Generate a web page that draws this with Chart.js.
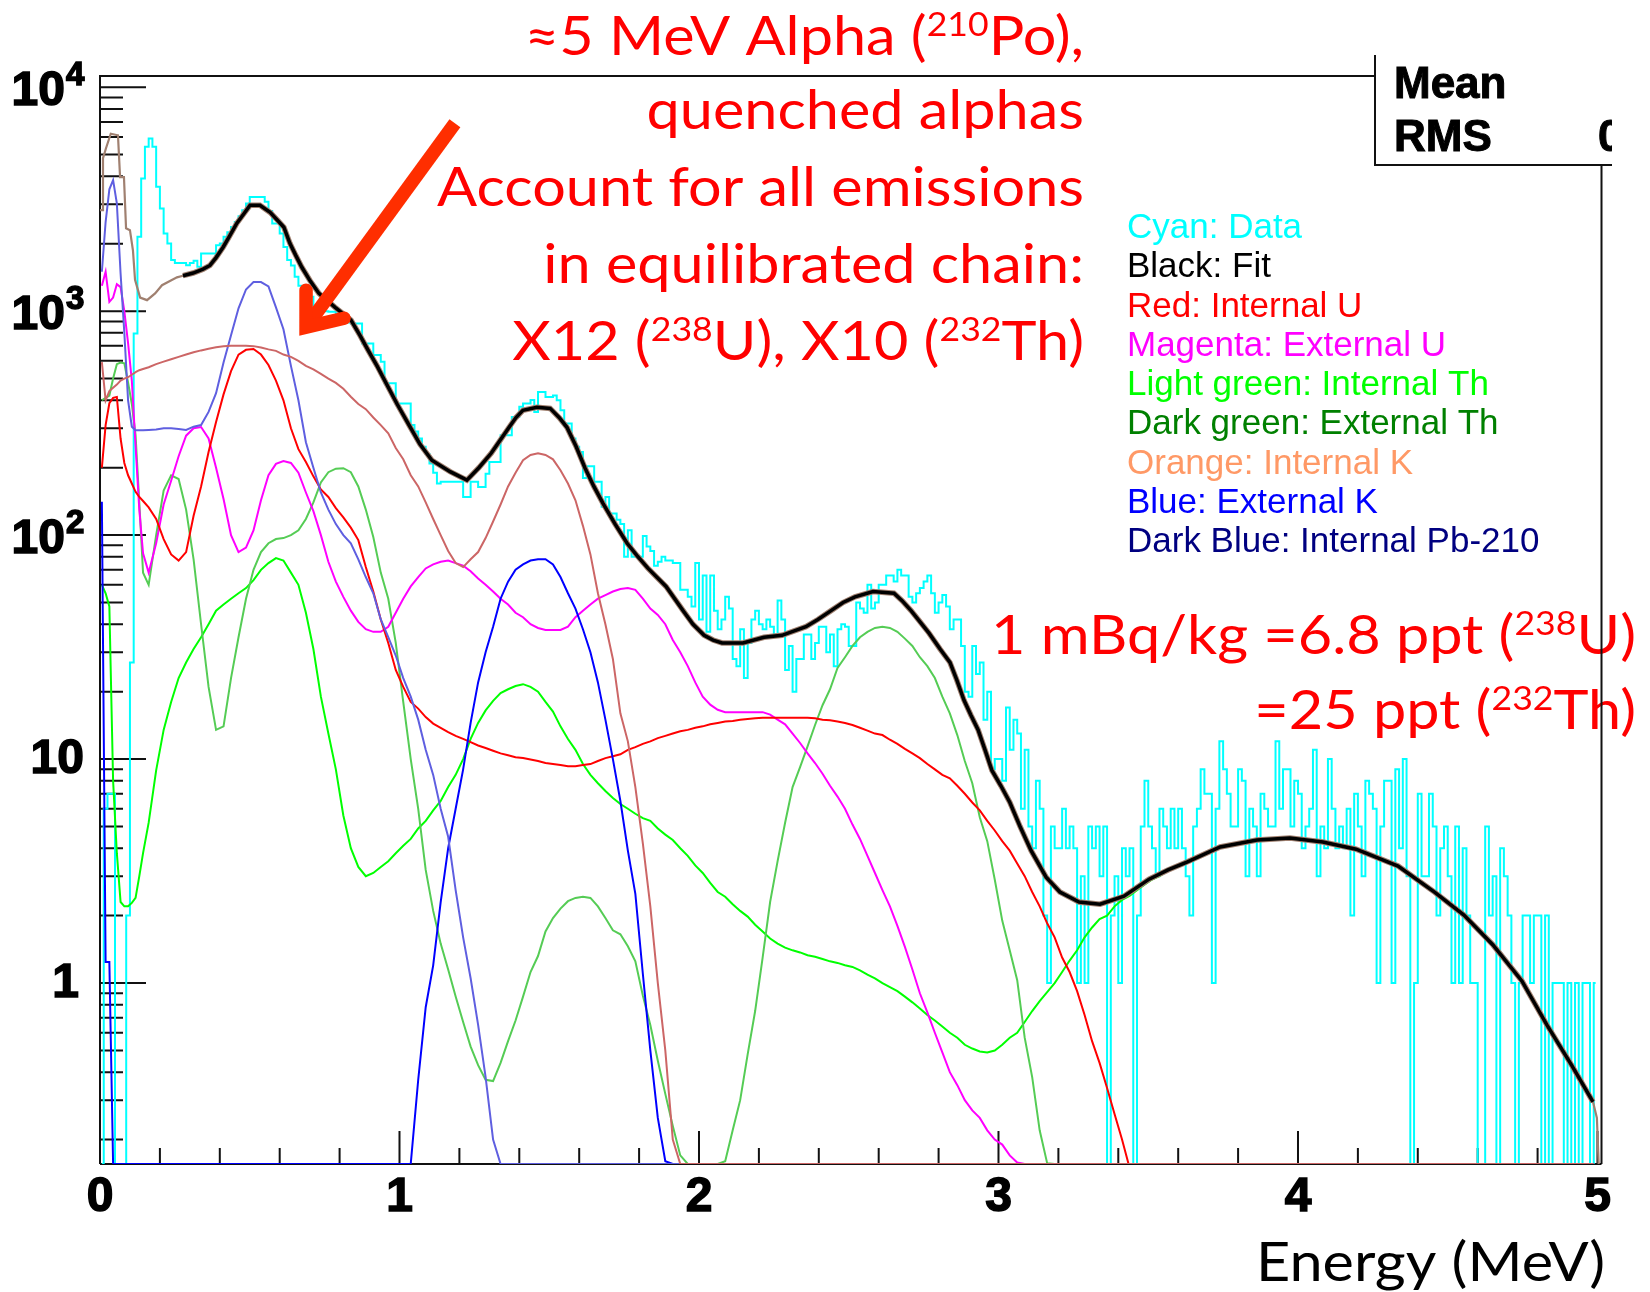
<!DOCTYPE html>
<html>
<head>
<meta charset="utf-8">
<title>Energy spectrum</title>
<script src="https://cdn.jsdelivr.net/npm/chart.js@4"></script>
<style>
  html, body { margin: 0; padding: 0; background: #fff; }
  canvas { display: block; }
</style>
</head>
<body>
<canvas id="spectrum" width="1650" height="1292"></canvas>
<script>
// axis limits
const energyMax = 5.0134;
const countMin = 0.1556;
const countMax = 11220;

// x ticks
const energyMajor = [0, 1, 2, 3, 4, 5];
const energyMinor = [0.2, 0.4, 0.6, 0.8, 1.2, 1.4, 1.6, 1.8, 2.2, 2.4, 2.6, 2.8, 3.2, 3.4, 3.6, 3.8, 4.2, 4.4, 4.6, 4.8];
// y ticks
const countMajor = [1, 10, 100, 1000, 10000];
const countMinor = [0.2, 0.3, 0.4, 0.5, 0.6, 0.7, 0.8, 0.9,
  2, 3, 4, 5, 6, 7, 8, 9, 20, 30, 40, 50, 60, 70, 80, 90,
  200, 300, 400, 500, 600, 700, 800, 900, 2000, 3000, 4000, 5000, 6000, 7000, 8000, 9000];

// Cyan: data, counts in 400 bins of 0.0125 MeV
const dataCounts = [
  0,6,7,7,0,0,0,2,27,795,2148,3912,5415,5900,5415,3590,2873,2222,2005,1690,
  1640,1640,1640,1603,1640,1680,1577,1811,1811,1811,1811,1971,2005,2150,2250,2378,2500,2650,2825,3027,
  3237,3237,3237,3237,3076,2800,2461,2461,2222,1936,1690,1600,1423,1300,1159,1159,1159,1045,1045,1020,
  1000,993,993,960,940,900,890,881,881,881,718,718,718,637,637,594,476,476,476,387,
  387,387,387,310,290,270,248,230,209,190,170,173,173,173,173,173,173,148,148,173,
  173,164,164,188,212,212,212,279,279,279,337,337,374,387,387,401,355,436,436,414,
  414,420,400,361,315,315,270,248,235,180,203,203,173,173,134,148,125,125,117,112,
  80,105,80,80,80,99,89,85,73,76,80,77,77,75,75,57,57,53,48,75,
  42,66,37,66,46,38,42,53,47,28,26,38,23,33,42,46,40,38,42,39,
  36,51,42,25,32,20,28,28,36,36,28,33,39,39,30,36,26,38,40,39,
  32,32,50,47,45,60,47,50,60,60,66,66,62,70,66,66,53,50,55,58,
  62,66,55,45,50,54,48,38,42,42,32,20,19,32,24,27,15,20,9,10,
  10,8,17,11,15,13,6,11,5,4,8,6,2,1,5,4,4,6,4,5,
  4,1,3,1,5,4,5,3,5,0,2,3,1,4,3,4,0,2,5,8,
  5,4,3,6,5,4,6,4,6,4,3,2,5,6,9,7,7,1,6,12,
  9,7,5,5,9,8,3,6,5,3,7,6,5,5,12,6,9,9,5,8,
  7,4,5,6,11,3,5,4,10,6,4,5,4,6,2,7,5,3,8,7,
  6,1,5,8,8,1,9,4,10,3,0,1,7,3,3,7,5,2,4,5,
  3,1,5,1,4,2,1,1,0,0,5,2,3,0,4,3,2,1,0,1,
  2,2,1,2,2,0,2,0,1,1,1,0,1,0,1,0,1,1,0,1
];

// Components below share one energy list: 12 fine bins up to 0.15 MeV, then 0.025 MeV bins
const redValues = [
  200,310,388,410,414,270,210,185,170,156,148,142,
  133,118,96,82,77,84,122,165,235,320,
  425,540,640,672,678,640,575,490,400,300,
  242,212,183,160,148,132,120,108,95,72,
  56,42,33,25,21,18,16.8,15.4,14.4,13.8,
  13.2,12.7,12.3,11.9,11.5,11.2,10.9,10.6,10.4,10.2,
  10.1,9.95,9.8,9.6,9.5,9.4,9.3,9.3,9.4,9.5,
  9.8,10.1,10.3,10.5,11,11.3,11.7,12,12.4,12.7,
  13,13.3,13.5,13.8,14,14.3,14.5,14.7,14.8,15,
  15.1,15.2,15.3,15.3,15.3,15.3,15.3,15.3,15.3,15.2,
  15,14.9,14.7,14.5,14.2,13.8,13.4,13,12.8,12.2,
  11.7,11.1,10.6,10.1,9.5,9,8.5,8.2,7.6,7,
  6.4,5.9,5.3,4.8,4.3,3.9,3.42,3,2.55,2.2,
  1.85,1.6,1.3,1.12,0.92,0.72,0.55,0.44,0.34,0.26,
  0.2,0.15
];

const magentaValues = [
  1300,1500,1100,1150,1320,1280,1000,720,490,250,130,83,
  68,92,137,175,225,278,300,304,270,200,
  145,100,84,88,105,143,185,208,214,210,
  190,155,128,100,76,62,53,46,41,38,
  37,37,39,45,52,59,65,71,74,76,
  77,75,73,69,64,60,56,52,49,45,
  43,40,38.5,37.7,37.7,37.7,39,43,46,49,
  52,54,56,57.5,58,57,52,47,44,40,
  34,30,26,22,19,17.5,16.6,16.2,16.2,16.2,
  16.2,16.2,16.2,15.8,15,14.3,13,11.8,10.6,9.6,
  8.6,7.6,6.8,6,5.1,4.4,3.7,3.1,2.6,2.2,
  1.8,1.45,1.15,0.9,0.74,0.6,0.49,0.4,0.35,0.3,
  0.27,0.25,0.22,0.2,0.19,0.17,0.158
];

const internalThValues = [
  60,55,48,8,3.8,2.3,2.2,2.2,2.28,2.4,3,3.8,
  5.2,8.9,13.5,18,23,27,31,35,40,46,
  49,52,55,58,63,70,75,79,77,68,
  60,45,31,19,13,9,5.6,4,3.3,3,
  3.1,3.3,3.5,3.8,4.1,4.4,4.9,5.3,5.9,6.5,
  7.5,8.5,10,12.3,14.5,16.5,18.2,19.7,20.5,21.2,
  21.6,21,20,18,16.3,14,12.3,11,9.5,8.5,
  7.8,7.2,6.7,6.3,6,5.7,5.45,5.3,4.9,4.6,
  4.35,4,3.7,3.35,3.1,2.8,2.55,2.43,2.25,2.1,
  1.98,1.82,1.7,1.58,1.5,1.44,1.4,1.37,1.33,1.31,
  1.28,1.25,1.23,1.2,1.18,1.14,1.09,1.05,1,0.96,
  0.92,0.87,0.82,0.77,0.72,0.68,0.64,0.6,0.57,0.53,
  0.51,0.495,0.49,0.5,0.53,0.57,0.6,0.67,0.75,0.83,
  0.91,1,1.12,1.26,1.4,1.6,1.77,1.93,2,2.2,
  2.35,2.45,2.6,2.75,2.9,3,3.15,3.25
];

const externalThValues = [
  400,410,420,500,580,590,585,480,385,280,140,68,
  60,100,158,185,178,130,78,40,21,13.5,
  14,23,35,52,70,84,92,96,97,100,
  105,118,140,172,191,198,199,191,165,130,
  98,68,52,33,18,10,6,3.2,2.1,1.5,
  1.15,0.87,0.67,0.52,0.43,0.37,0.365,0.44,0.55,0.68,
  0.87,1.12,1.32,1.7,1.95,2.15,2.32,2.4,2.43,2.4,
  2.2,1.95,1.72,1.65,1.46,1.25,0.88,0.65,0.45,0.32,
  0.23,0.17,0,0,0,0,0,0.16,0.22,0.3,
  0.48,0.75,1.3,2.3,3.5,5.2,7.5,9.2,11.4,14.2,
  17.4,20.5,25.5,28.5,32,35,37,38.5,39,38.5,
  37,34.5,32,28.5,26,23,19,16,12.8,9.8,
  7.8,5.5,4.3,2.9,1.9,1.4,1.03,0.57,0.38,0.22,
  0.157
];

const internalKValues = [
  592,400,440,455,470,490,500,507,520,534,545,552,
  562,580,595,610,625,640,655,668,680,690,
  697,700,700,700,698,688,675,665,640,625,
  600,570,550,525,500,478,450,415,385,365,
  335,310,285,245,218,185,165,140,118,100,
  85,75,72,78,84,97,115,137,165,190,
  216,228,232,228,218,195,170,143,110,82,
  55,40,28,16,12,7.5,4.2,2.2,1,0.5,
  0.2
];

const externalKValues = [
  141,1.24,1.24,0,0,0,0,0,0,0,0,0,
  0,0,0,0,0,0,0,0,0,0,
  0,0,0,0,0,0,0,0,0,0,
  0,0,0,0,0,0,0,0,0,0,
  0,0,0,0,0,0,0.37,0.78,1.2,2.3,
  4,6,9,14.5,22,30,39,52,62,70,
  74,77,78,78,74,65,55,47,38,30,
  22,15,10,6.5,3.9,2.5,1.1,0.5,0.25,0.16
];

const pb210Values = [
  1500,2500,3500,3846,3027,1473,800,400,305,294,294,294,
  295,296,300,300,298,295,305,310,355,430,
  590,780,1030,1250,1349,1349,1290,1040,830,570,
  400,260,200,155,130,112,100,92,78,65,
  55,42,35,29,23,19,15,11,8.5,6,
  4.5,2.6,1.6,1.05,0.65,0.38,0.2
];

// Black: fit
const fitEnergy = [
  0.277,0.311,0.344,0.367,0.387,0.411,0.434,0.457,0.481,0.501,0.534,0.568,0.591,0.614,0.634,0.654,0.674,0.701,0.731,0.785,
  0.838,0.868,0.895,0.925,0.955,0.992,1.032,1.068,1.108,1.169,1.225,1.265,1.306,1.336,1.366,1.389,1.412,1.459,1.503,1.533,
  1.559,1.589,1.619,1.649,1.679,1.72,1.76,1.793,1.83,1.89,1.947,1.98,2.017,2.047,2.077,2.147,2.217,2.277,2.357,2.397,
  2.441,2.481,2.521,2.581,2.651,2.678,2.708,2.738,2.768,2.805,2.838,2.861,2.885,2.908,2.932,2.955,2.978,3.008,3.038,3.072,
  3.109,3.159,3.205,3.269,3.339,3.419,3.503,3.566,3.629,3.74,3.863,3.973,4.083,4.194,4.334,4.457,4.554,4.651,4.748,4.831,
  4.915,4.985
];
const fitValues = [
  1440,1480,1540,1600,1730,1930,2180,2470,2730,2970,2970,2760,2560,2370,2010,1770,1570,1370,1200,1040,
  912,780,670,570,478,385,310,255,216,192,176,200,232,265,303,335,361,372,368,335,
  303,250,200,165,139,112,92,81,71,59,46,40,35.7,34,33,33,35,35.7,39,42,
  46,50,53,56,55,51,46,41,36.5,31,27,22.5,18.3,15.7,13.5,11,8.9,7.6,6.4,5,
  3.9,2.97,2.55,2.3,2.25,2.44,2.91,3.2,3.47,4.05,4.35,4.44,4.26,3.96,3.33,2.54,2.01,1.48,1.02,0.65,
  0.427,0.295
];
// Brown total: the same curve plus its low energy and top end parts
const totalLowEnergy = [0,0.007,0.01,0.02,0.036,0.06,0.067,0.08,0.087,0.1,0.11,0.117,0.134,0.157,0.184,0.207,0.257,0.277];
const totalLowValues = [2825,2825,4820,5340,6200,6100,3970,3970,2345,2300,1870,1380,1150,1120,1200,1306,1415,1440];
const totalEndEnergy = [4.985,4.998,5.004];
const totalEndValues = [0.295,0.25,0.1556];

// Text on the picture, [text, superscript]
const alphaNote = [
  [["≈5 MeV Alpha (", false], ["210", true], ["Po),", false]],
  [["quenched alphas", false]],
  [["Account for all emissions", false]],
  [["in equilibrated chain:", false]],
  [["X12 (", false], ["238", true], ["U), X10 (", false], ["232", true], ["Th)", false]]
];
const ppbNote = [
  [["1 mBq/kg =6.8 ppt (", false], ["238", true], ["U)", false]],
  [["=25 ppt (", false], ["232", true], ["Th)", false]]
];
const legendLabels = ["Cyan: Data", "Black: Fit", "Red: Internal U", "Magenta: External U", "Light green: Internal Th",
  "Dark green: External Th", "Orange: Internal K", "Blue: External K", "Dark Blue: Internal Pb-210"];
const legendColors = ["#00ffff", "#000000", "#ff0000", "#ff00ff", "#00ff00", "#008000", "#ff9966", "#0000ff", "#000080"];

// Arrow, given in axis values
const arrowShaftEnergy = [1.185, 0.688];
const arrowShaftCounts = [6900, 848];
const arrowHeadEnergy = [0.688, 0.688, 0.815];
const arrowHeadCounts = [1240, 848, 930];

// bin centres of the shared energy list
const componentEnergy = [];
for (let i = 0; i < 12; i++) componentEnergy.push(0.00625 + 0.0125 * i);
for (let j = 0; j < 194; j++) componentEnergy.push(0.1625 + 0.025 * j);

// empty bins sit on the bottom axis, a log axis cannot show a real zero
function onAxis(v) {
  return v === 0 ? countMin : v;
}
function component(values) {
  return componentEnergy.map((e, i) => ({ x: e, y: onAxis(i < values.length ? values[i] : 0) }));
}
function pairs(energy, values) {
  return energy.map((e, i) => ({ x: e, y: onAxis(values[i]) }));
}
function series(label, color, width, points, stepped) {
  return { label: label, data: points, borderColor: color, borderWidth: width, pointRadius: 0,
    fill: false, tension: 0, stepped: stepped ? 'middle' : false, borderJoinStyle: 'miter' };
}

const SANS = '"Liberation Sans", Arial, sans-serif';
const NOTE_FONT = 'Lato, "Noto Sans", sans-serif';
const NOTE_STRETCH = 1.1;

function drawRich(ctx, parts, right, baseline, size) {
  let w = 0;
  parts.forEach(p => {
    ctx.font = (p[1] ? size * 0.6 : size) + 'px ' + NOTE_FONT;
    w += ctx.measureText(p[0]).width;
  });
  ctx.save();
  ctx.translate(right, 0);
  ctx.scale(NOTE_STRETCH, 1);
  ctx.textAlign = 'left';
  let x = -w;
  parts.forEach(p => {
    ctx.font = (p[1] ? size * 0.6 : size) + 'px ' + NOTE_FONT;
    ctx.fillText(p[0], x, p[1] ? baseline - size * 0.36 : baseline);
    x += ctx.measureText(p[0]).width;
  });
  ctx.restore();
}
function boldText(ctx, text, x, y) {
  ctx.fillText(text, x, y);
  ctx.strokeText(text, x, y);
}

const rootFrame = {
  id: 'rootFrame',
  beforeDatasetsDraw(chart) {
    const ctx = chart.ctx, area = chart.chartArea, xs = chart.scales.x, ys = chart.scales.y;
    ctx.save();
    ctx.strokeStyle = '#111';
    ctx.lineWidth = 2;
    ctx.beginPath();
    ctx.moveTo(area.left, area.bottom); ctx.lineTo(area.right, area.bottom);
    ctx.moveTo(area.left, area.bottom); ctx.lineTo(area.left, area.top);
    ctx.lineTo(1375, area.top);
    energyMajor.forEach(v => { const x = xs.getPixelForValue(v); ctx.moveTo(x, area.bottom); ctx.lineTo(x, area.bottom - 33); });
    energyMinor.forEach(v => { const x = xs.getPixelForValue(v); ctx.moveTo(x, area.bottom); ctx.lineTo(x, area.bottom - 16); });
    countMajor.forEach(v => { const y = ys.getPixelForValue(v); ctx.moveTo(area.left, y); ctx.lineTo(area.left + 46, y); });
    countMinor.forEach(v => { const y = ys.getPixelForValue(v); ctx.moveTo(area.left, y); ctx.lineTo(area.left + 23, y); });
    ctx.stroke();
    ctx.restore();
  },
  afterDraw(chart) {
    const ctx = chart.ctx, area = chart.chartArea, xs = chart.scales.x, ys = chart.scales.y;
    ctx.save();

    // y tick labels, powers of ten with a raised exponent
    ctx.fillStyle = '#000';
    ctx.strokeStyle = '#000';
    ctx.lineWidth = 1.5;
    ctx.textBaseline = 'middle';
    ctx.textAlign = 'right';
    ctx.font = 'bold 48px ' + SANS;
    boldText(ctx, '1', 79, ys.getPixelForValue(1) + 1);
    boldText(ctx, '10', 84, ys.getPixelForValue(10) + 1);
    [[100, '2'], [1000, '3'], [10000, '4']].forEach(t => {
      const y = ys.getPixelForValue(t[0]);
      ctx.textAlign = 'right';
      ctx.font = 'bold 48px ' + SANS;
      boldText(ctx, '10', 65, y + 5);
      ctx.textAlign = 'left';
      ctx.font = 'bold 33px ' + SANS;
      boldText(ctx, t[1], 66, y - 11);
    });

    // arrow
    ctx.strokeStyle = '#ff2e00';
    ctx.lineWidth = 13.5;
    ctx.lineCap = 'butt';
    ctx.beginPath();
    ctx.moveTo(xs.getPixelForValue(arrowShaftEnergy[0]), ys.getPixelForValue(arrowShaftCounts[0]));
    ctx.lineTo(xs.getPixelForValue(arrowShaftEnergy[1]), ys.getPixelForValue(arrowShaftCounts[1]));
    ctx.stroke();
    ctx.lineCap = 'round';
    ctx.lineJoin = 'miter';
    ctx.miterLimit = 4;
    ctx.beginPath();
    arrowHeadEnergy.forEach((e, i) => {
      const x = xs.getPixelForValue(e), y = ys.getPixelForValue(arrowHeadCounts[i]);
      if (i === 0) ctx.moveTo(x, y); else ctx.lineTo(x, y);
    });
    ctx.stroke();

    // notes
    ctx.textBaseline = 'alphabetic';
    ctx.fillStyle = '#ff0000';
    alphaNote.forEach((parts, i) => drawRich(ctx, parts, 1084, i === 0 ? 55 : 129 + 77 * (i - 1), 54));
    ppbNote.forEach((parts, i) => drawRich(ctx, parts, 1636, 654 + 75 * i, 54));
    ctx.fillStyle = '#000';
    drawRich(ctx, [["Energy (MeV)", false]], 1605, 1281, 54);

    // colour key
    ctx.textAlign = 'left';
    ctx.font = '35px ' + SANS;
    legendLabels.forEach((t, i) => {
      ctx.fillStyle = legendColors[i];
      ctx.fillText(t, 1127, 238 + 39.25 * i);
    });

    // stats box, cut off at the right side
    ctx.fillStyle = '#000';
    ctx.strokeStyle = '#000';
    ctx.lineWidth = 1;
    ctx.font = 'bold 44px ' + SANS;
    boldText(ctx, 'Mean', 1394, 98);
    boldText(ctx, 'RMS', 1394, 151);
    ctx.save();
    ctx.beginPath();
    ctx.rect(1590, 100, 22, 70);
    ctx.clip();
    boldText(ctx, '0', 1598, 151);
    ctx.restore();

    ctx.strokeStyle = '#111';
    ctx.lineWidth = 2;
    ctx.lineCap = 'butt';
    ctx.beginPath();
    ctx.moveTo(1375, 55); ctx.lineTo(1375, 165); ctx.lineTo(1612, 165);
    ctx.moveTo(area.right, 165); ctx.lineTo(area.right, area.bottom);
    ctx.stroke();
    ctx.restore();
  }
};

new Chart(document.getElementById('spectrum').getContext('2d'), {
  type: 'line',
  data: {
    datasets: [
      // first in the list is drawn on top
      series('Fit', '#000000', 3.5, pairs(fitEnergy, fitValues)),
      series('Total', '#a08070', 5.5, pairs(fitEnergy, fitValues)),
      series('Total low', '#a08070', 2.2, pairs(totalLowEnergy, totalLowValues)),
      series('Total end', '#a08070', 2.2, pairs(totalEndEnergy, totalEndValues)),
      series('Internal K', '#cc6666', 2, component(internalKValues)),
      series('Internal Pb-210', '#5f5fe0', 2, component(pb210Values)),
      series('External K', '#0000ff', 2, component(externalKValues)),
      series('Internal U', '#ff0000', 2, component(redValues)),
      series('External U', '#ff00ff', 2, component(magentaValues)),
      series('External Th', '#55cc55', 2, component(externalThValues)),
      series('Internal Th', '#00ff00', 2, pairs(componentEnergy.slice(0, internalThValues.length), internalThValues)),
      series('Data', '#00ffff', 2, pairs(dataCounts.map((c, i) => 0.00625 + 0.0125 * i), dataCounts), true)
    ]
  },
  options: {
    responsive: false,
    animation: false,
    layout: { padding: { top: 76, right: 48.5, left: 0, bottom: 0 } },
    plugins: { legend: { display: false }, tooltip: { enabled: false } },
    scales: {
      x: {
        type: 'linear',
        min: 0,
        max: energyMax,
        grid: { display: false },
        border: { display: false },
        afterBuildTicks: scale => { scale.ticks = energyMajor.map(v => ({ value: v })); },
        afterFit: scale => { scale.height = 128; },
        ticks: {
          autoSkip: false, maxRotation: 0, padding: -3, color: '#000',
          textStrokeColor: '#000', textStrokeWidth: 1.5,
          font: { family: 'Liberation Sans', size: 48, weight: 'bold' },
          callback: v => String(v)
        }
      },
      y: {
        type: 'logarithmic',
        min: countMin,
        max: countMax,
        grid: { display: false },
        border: { display: false },
        afterBuildTicks: scale => { scale.ticks = countMajor.map(v => ({ value: v })); },
        afterFit: scale => { scale.width = 100; },
        ticks: { display: false }
      }
    }
  },
  plugins: [rootFrame]
});
</script>
</body>
</html>
